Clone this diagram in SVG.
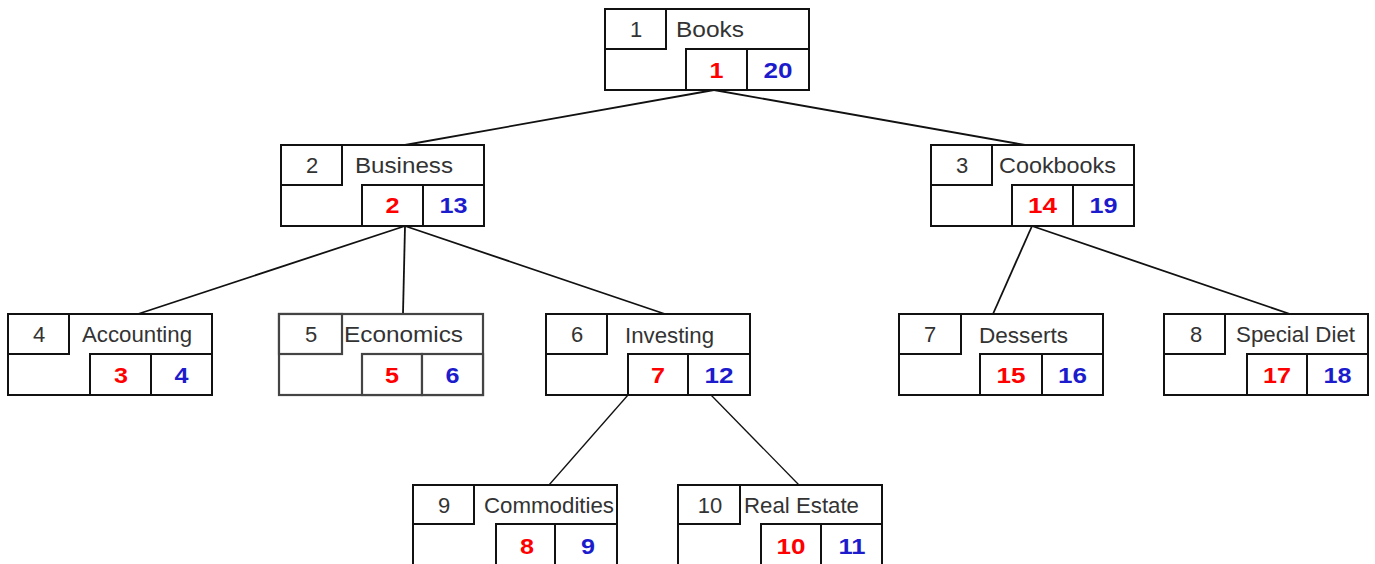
<svg xmlns="http://www.w3.org/2000/svg" width="1375" height="564" viewBox="0 0 1375 564">
<style>
.box{fill:#fff;stroke:#111;stroke-width:2}
.econ .box{stroke:#444;stroke-width:2.2}
.id{font-family:"Liberation Sans",Arial,sans-serif;font-size:22px;fill:#333;text-anchor:middle}
.lbl{font-family:"Liberation Sans",Arial,sans-serif;font-size:22px;fill:#333}
.r{font-family:"Liberation Sans",Arial,sans-serif;font-size:22px;font-weight:bold;fill:#ff0000;text-anchor:middle}
.b{font-family:"Liberation Sans",Arial,sans-serif;font-size:22px;font-weight:bold;fill:#1c1ccc;text-anchor:middle}
.edge{stroke:#111;stroke-width:1.8;fill:none}
.edge2{stroke:#111;stroke-width:1.3;fill:none}
</style>
<rect width="1375" height="564" fill="#fff"/>
<g id="connectors">
<line class="edge" x1="714" y1="90" x2="405" y2="145"/>
<line class="edge" x1="714" y1="90" x2="1025" y2="145"/>
<line class="edge" x1="405" y1="226" x2="138" y2="314"/>
<line class="edge" x1="405" y1="226" x2="403" y2="314"/>
<line class="edge" x1="405" y1="226" x2="665" y2="314"/>
<line class="edge" x1="1032" y1="226" x2="993" y2="314"/>
<line class="edge" x1="1032" y1="226" x2="1290" y2="314"/>
<line class="edge2" x1="628" y1="395" x2="549" y2="485"/>
<line class="edge2" x1="711" y1="395" x2="799" y2="485"/>
</g>
<g id="node1" transform="translate(605,9)">
<rect class="box" width="204" height="81"/><rect class="box" width="61" height="40"/>
<rect class="box" x="81" y="40" width="61" height="41"/><rect class="box" x="142" y="40" width="62" height="41"/>
<text class="id" x="31" y="28">1</text>
<text class="lbl" x="71" y="28" textLength="68" lengthAdjust="spacingAndGlyphs">Books</text>
<text class="r" x="111.5" y="69" textLength="14" lengthAdjust="spacingAndGlyphs">1</text>
<text class="b" x="173" y="69" textLength="29" lengthAdjust="spacingAndGlyphs">20</text>
</g>
<g id="node2" transform="translate(281,145)">
<rect class="box" width="203" height="81"/><rect class="box" width="61" height="40"/>
<rect class="box" x="81" y="40" width="61" height="41"/><rect class="box" x="142" y="40" width="61" height="41"/>
<text class="id" x="31" y="28">2</text>
<text class="lbl" x="74" y="28" textLength="98" lengthAdjust="spacingAndGlyphs">Business</text>
<text class="r" x="111.5" y="68" textLength="14" lengthAdjust="spacingAndGlyphs">2</text>
<text class="b" x="172.5" y="68" textLength="28" lengthAdjust="spacingAndGlyphs">13</text>
</g>
<g id="node3" transform="translate(931,145)">
<rect class="box" width="203" height="81"/><rect class="box" width="61" height="40"/>
<rect class="box" x="81" y="40" width="61" height="41"/><rect class="box" x="142" y="40" width="61" height="41"/>
<text class="id" x="31" y="28">3</text>
<text class="lbl" x="68" y="28" textLength="117" lengthAdjust="spacingAndGlyphs">Cookbooks</text>
<text class="r" x="111.5" y="68" textLength="29" lengthAdjust="spacingAndGlyphs">14</text>
<text class="b" x="172.5" y="68" textLength="28" lengthAdjust="spacingAndGlyphs">19</text>
</g>
<g id="node4" transform="translate(8,314)">
<rect class="box" width="204" height="81"/><rect class="box" width="61" height="40"/>
<rect class="box" x="82" y="40" width="61" height="41"/><rect class="box" x="143" y="40" width="61" height="41"/>
<text class="id" x="31" y="28">4</text>
<text class="lbl" x="74" y="28" textLength="110" lengthAdjust="spacingAndGlyphs">Accounting</text>
<text class="r" x="113" y="69" textLength="14" lengthAdjust="spacingAndGlyphs">3</text>
<text class="b" x="173.5" y="69" textLength="14" lengthAdjust="spacingAndGlyphs">4</text>
</g>
<g id="node5" class="econ" transform="translate(279,314)">
<rect class="box" width="204" height="81"/><rect class="box" width="63" height="40"/>
<rect class="box" x="83" y="40" width="60" height="41"/><rect class="box" x="143" y="40" width="61" height="41"/>
<text class="id" x="32" y="28">5</text>
<text class="lbl" x="65" y="28" textLength="119" lengthAdjust="spacingAndGlyphs">Economics</text>
<text class="r" x="113" y="69" textLength="14" lengthAdjust="spacingAndGlyphs">5</text>
<text class="b" x="173.5" y="69" textLength="14" lengthAdjust="spacingAndGlyphs">6</text>
</g>
<g id="node6" transform="translate(546,314)">
<rect class="box" width="204" height="81"/><rect class="box" width="61" height="40"/>
<rect class="box" x="82" y="40" width="60" height="41"/><rect class="box" x="142" y="40" width="62" height="41"/>
<text class="id" x="31" y="28">6</text>
<text class="lbl" x="79" y="29" textLength="89" lengthAdjust="spacingAndGlyphs">Investing</text>
<text class="r" x="112" y="69" textLength="14" lengthAdjust="spacingAndGlyphs">7</text>
<text class="b" x="173" y="69" textLength="29" lengthAdjust="spacingAndGlyphs">12</text>
</g>
<g id="node7" transform="translate(899,314)">
<rect class="box" width="204" height="81"/><rect class="box" width="62" height="40"/>
<rect class="box" x="81" y="40" width="62" height="41"/><rect class="box" x="143" y="40" width="61" height="41"/>
<text class="id" x="31" y="28">7</text>
<text class="lbl" x="80" y="29" textLength="89" lengthAdjust="spacingAndGlyphs">Desserts</text>
<text class="r" x="112" y="69" textLength="29" lengthAdjust="spacingAndGlyphs">15</text>
<text class="b" x="173.5" y="69" textLength="29" lengthAdjust="spacingAndGlyphs">16</text>
</g>
<g id="node8" transform="translate(1164,314)">
<rect class="box" width="204" height="81"/><rect class="box" width="61" height="40"/>
<rect class="box" x="83" y="40" width="60" height="41"/><rect class="box" x="143" y="40" width="61" height="41"/>
<text class="id" x="32" y="28">8</text>
<text class="lbl" x="72" y="28" textLength="119" lengthAdjust="spacingAndGlyphs">Special Diet</text>
<text class="r" x="113" y="69" textLength="28" lengthAdjust="spacingAndGlyphs">17</text>
<text class="b" x="173.5" y="69" textLength="28" lengthAdjust="spacingAndGlyphs">18</text>
</g>
<g id="node9" transform="translate(413,485)">
<rect class="box" width="204" height="81"/><rect class="box" width="61" height="39"/>
<rect class="box" x="83" y="39" width="59" height="42"/><rect class="box" x="142" y="39" width="62" height="42"/>
<text class="id" x="31" y="28">9</text>
<text class="lbl" x="71" y="28" textLength="130" lengthAdjust="spacingAndGlyphs">Commodities</text>
<text class="r" x="114" y="69" textLength="14" lengthAdjust="spacingAndGlyphs">8</text>
<text class="b" x="175" y="69" textLength="14" lengthAdjust="spacingAndGlyphs">9</text>
</g>
<g id="node10" transform="translate(678,485)">
<rect class="box" width="204" height="81"/><rect class="box" width="62" height="39"/>
<rect class="box" x="83" y="39" width="60" height="42"/><rect class="box" x="143" y="39" width="61" height="42"/>
<text class="id" x="32" y="28">10</text>
<text class="lbl" x="66" y="28" textLength="115" lengthAdjust="spacingAndGlyphs">Real Estate</text>
<text class="r" x="113" y="69" textLength="29" lengthAdjust="spacingAndGlyphs">10</text>
<text class="b" x="174" y="69" textLength="27" lengthAdjust="spacingAndGlyphs">11</text>
</g>
</svg>
